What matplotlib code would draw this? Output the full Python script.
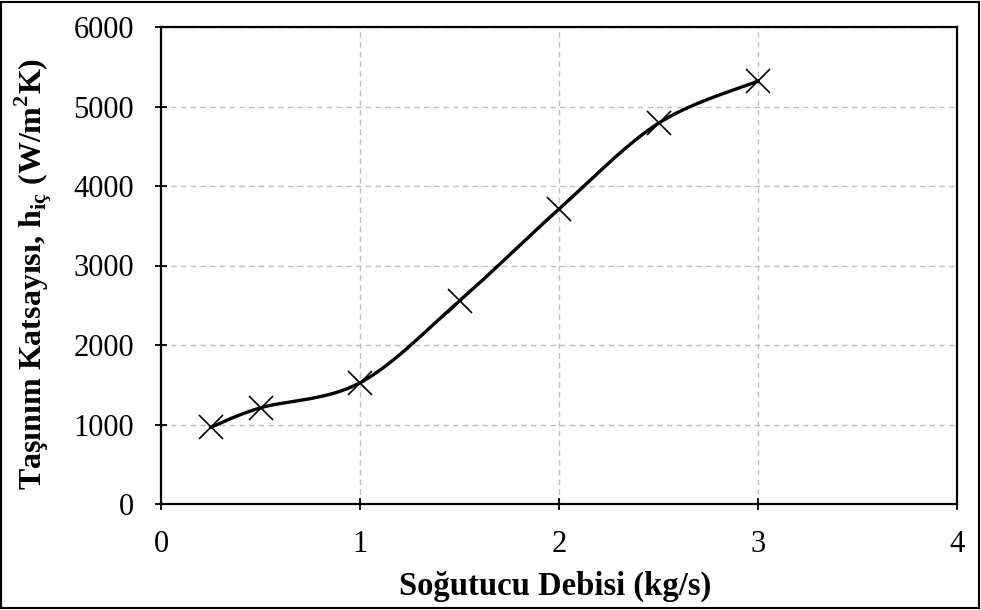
import numpy as np
import matplotlib.pyplot as plt
from matplotlib.patches import Rectangle

plt.rcParams['font.family'] = ['Liberation Serif', 'DejaVu Serif']
plt.rcParams['mathtext.fontset'] = 'custom'
plt.rcParams['mathtext.rm'] = 'Liberation Serif'
plt.rcParams['mathtext.bf'] = 'Liberation Serif:bold'

debi = [0.25, 0.5, 1.0, 1.5, 2.0, 2.5, 3.0]
h_ic = [965, 1210, 1525, 2555, 3710, 4790, 5320]
x_ticks = [0, 1, 2, 3, 4]
y_ticks = [0, 1000, 2000, 3000, 4000, 5000, 6000]


def excel_smooth(x, y, n=40):
    # bezier segments like the excel smoothed line
    x = np.asarray(x, float)
    y = np.asarray(y, float)
    px = np.concatenate([[x[0]], x, [x[-1]]])
    py = np.concatenate([[y[0]], y, [y[-1]]])
    xs, ys = [], []
    t = np.linspace(0, 1, n)
    for i in range(len(x) - 1):
        p0 = np.array([px[i + 1], py[i + 1]])
        p3 = np.array([px[i + 2], py[i + 2]])
        p1 = p0 + (np.array([px[i + 2], py[i + 2]]) - np.array([px[i], py[i]])) / 6
        p2 = p3 - (np.array([px[i + 3], py[i + 3]]) - np.array([px[i + 1], py[i + 1]])) / 6
        b = ((1 - t) ** 3)[:, None] * p0 + (3 * (1 - t) ** 2 * t)[:, None] * p1 \
            + (3 * (1 - t) * t ** 2)[:, None] * p2 + (t ** 3)[:, None] * p3
        xs.append(b[:, 0])
        ys.append(b[:, 1])
    return np.concatenate(xs), np.concatenate(ys)


fig = plt.figure(figsize=(9.81, 6.10), dpi=100)
ax = fig.add_axes([161 / 981, 1 - 504 / 610, (957 - 161) / 981, (504 - 27) / 610])

sx, sy = excel_smooth(debi, h_ic)
ax.plot(sx, sy, color='black', lw=2.4, zorder=3)
ax.plot(debi, h_ic, 'x', color='black', markersize=17, mew=1.2, zorder=4)

ax.set_xlim(0, 4)
ax.set_ylim(0, 6000)
ax.set_xticks(x_ticks)
ax.set_yticks(y_ticks)
ax.grid(True, color='#bfbfbf', ls=(0, (4, 3)), lw=1)
ax.set_axisbelow(True)
ax.tick_params(direction='inout', length=9, width=1.3, labelsize=22)
ax.tick_params(axis='x', pad=14)
ax.tick_params(axis='y', pad=15)
for s in ax.spines.values():
    s.set_linewidth(1.6)
    s.set_color('black')

ax.set_xlabel('Soğutucu Debisi (kg/s)', fontsize=23.5, fontweight='bold')
ax.xaxis.set_label_coords(0.495, (504 - 571) / 477)
ax.set_ylabel(r'Taşınım Katsayısı, h$_{\mathbf{iç}}$ (W/m$^{\mathbf{2}}$K)',
              fontsize=23, fontweight='bold')
ax.yaxis.set_label_coords((54 - 161) / 796, (504 - 274) / 477)

fig.patches.append(Rectangle((1 / 981, 2 / 610), 978 / 981, 606 / 610, transform=fig.transFigure,
                             fill=False, edgecolor='black', lw=1.5))

fig.savefig('out.png', dpi=100)
